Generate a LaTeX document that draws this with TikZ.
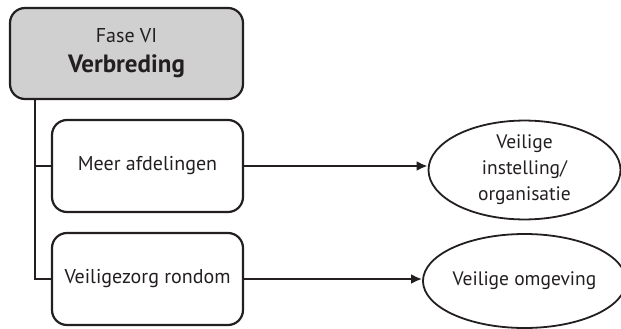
\documentclass[tikz,border=0pt]{standalone}
\usepackage{fontspec}
\setmainfont{PT Sans}
\usetikzlibrary{arrows.meta,shapes.geometric}
\definecolor{boxgray}{HTML}{D0D0D0}
\definecolor{txt}{HTML}{231F20}
\tikzset{
  x=1pt, y=-1pt,
  line/.style={line width=2.2pt, draw=txt},
  rbox/.style={line, rounded corners=15pt, minimum width=191pt, minimum height=92pt, align=center, font=\fontsize{20}{24}\selectfont, text=txt},
  topbox/.style={rbox, fill=boxgray, minimum width=233pt, minimum height=91pt},
  ell/.style={line, line width=1.8pt, ellipse, minimum width=192pt, minimum height=94pt, inner sep=0pt, align=center, font=\fontsize{19.5}{26}\selectfont, text=txt},
  arr/.style={line, -{Latex[length=11pt,width=10pt]}}
}
\begin{document}
\begin{tikzpicture}
\useasboundingbox (0,0) rectangle (621,329);
\node[topbox, font=\fontsize{20}{30}\selectfont] (top) at (126.5,53.5) {Fase VI\\\textbf{\fontsize{25}{30}\selectfont Verbreding}};
\node[rbox] (b1) at (147.5,166) {Meer afdelingen};
\node[rbox] (b2) at (147.5,279) {Veiligezorg rondom};
\node[ell] (e1) at (524.5,170) {Veilige\\instelling/\\organisatie};
\node[ell] (e2) at (524.5,281) {Veilige omgeving};
\coordinate (v0) at (35,99);
\draw[line] (v0) |- (b1.west);
\draw[line] (v0) |- (b2.west);
\draw[arr] (b1.east) -- (b1.east -| e1.west);
\draw[arr] (b2.east) -- (b2.east -| e2.west);
\end{tikzpicture}
\end{document}
